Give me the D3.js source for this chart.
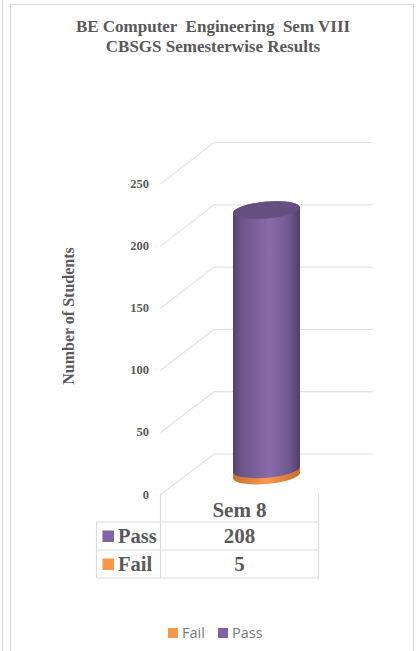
<!DOCTYPE html>
<html>
<head>
<meta charset="utf-8">
<script src="https://cdn.jsdelivr.net/npm/d3@7"></script>
<style>
html, body { margin: 0; padding: 0; background: #fff; overflow: hidden; }
text { font-family: "Liberation Serif", serif; font-weight: bold; fill: #595959; white-space: pre; }
</style>
</head>
<body>
<svg id="chart" width="416" height="651"></svg>
<script>
// chart values
const titleLines = ['BE Computer  Engineering  Sem VIII', 'CBSGS Semesterwise Results'];
const yTicks = [0, 50, 100, 150, 200, 250];
const categories = ['Sem 8'];
const seriesNames = ['Pass', 'Fail'];
const passValues = [208];
const failValues = [5];
const legendNames = ['Fail', 'Pass'];

const PASS = '#8064a2', FAIL = '#f79646', GRID = '#e3e3e3';

const svg = d3.select('#chart');
const defs = svg.append('defs');

// shading across the cylinder
function cylinderGradient(id, stops) {
    const g = defs.append('linearGradient').attr('id', id)
        .attr('x1', 0).attr('x2', 1).attr('y1', 0).attr('y2', 0);
    stops.forEach(s => g.append('stop').attr('offset', s[0]).attr('stop-color', s[1]));
}
cylinderGradient('passSide', [[0, '#54426d'], [0.12, '#6c5489'], [0.55, '#8a6bac'], [0.85, '#6f568d'], [1, '#4f3e66']]);
cylinderGradient('failSide', [[0, '#c5722f'], [0.5, '#f9994e'], [1, '#c5722f']]);

// outer frames of the screenshot
svg.append('rect').attr('x', 10.5).attr('y', 4.5).attr('width', 403).attr('height', 660)
    .attr('fill', 'none').attr('stroke', '#d9d9d9');
svg.append('line').attr('x1', 2.5).attr('x2', 2.5).attr('y1', 0).attr('y2', 651)
    .attr('stroke', '#d9d9d9');

// title
svg.append('g').selectAll('text').data(titleLines).join('text')
    .attr('x', 213).attr('y', (d, i) => 32 + i * 19.5)
    .attr('text-anchor', 'middle').attr('font-size', 17)
    .text(d => d);

// front and back value scales of the 3D box
const yFront = d3.scaleLinear().domain([0, 250]).range([494.5, 184]);
const yBack = d3.scaleLinear().domain([0, 250]).range([454, 142.5]);
const xFront = 160.5, xBack = 214, xRight = 373;

const grid = svg.append('g').attr('fill', 'none').attr('stroke', GRID).attr('stroke-width', 1.2);
grid.selectAll('path').data(yTicks).join('path')
    .attr('d', d => `M${xFront},${yFront(d)}L${xBack},${yBack(d)}L${xRight},${yBack(d)}`);

// tick labels
svg.append('g').selectAll('text').data(yTicks).join('text')
    .attr('x', 149).attr('y', d => yFront(d) + 4)
    .attr('text-anchor', 'end').attr('font-size', 12.5)
    .text(d => d);

// axis title
svg.append('text')
    .attr('transform', 'translate(74,316) rotate(-90)')
    .attr('text-anchor', 'middle').attr('font-size', 16)
    .text('Number of Students');

// stacked cylinder, drawn on a scale running through its centre
const cx = 266.5, rx = 33.5, ry = 8.5, tilt = -5;
const yCyl = d3.scaleLinear().domain([0, 250]).range([475.5, 164]);

function segment(v0, v1, fill) {
    const y0 = yCyl(v0), y1 = yCyl(v1);
    const lift = rx * Math.sin(-tilt * Math.PI / 180);
    svg.append('path')
        .attr('d', `M${cx - rx},${y1 + lift}L${cx - rx},${y0 + lift}` +
            `A${rx},${ry} ${tilt} 0 0 ${cx + rx},${y0 - lift}L${cx + rx},${y1 - lift}` +
            `A${rx},${ry} ${tilt} 0 0 ${cx - rx},${y1 + lift}Z`)
        .attr('fill', fill);
}
const failTop = failValues[0];
const passTop = failTop + passValues[0];
segment(0, failTop, 'url(#failSide)');
segment(failTop, passTop, 'url(#passSide)');
svg.append('ellipse')
    .attr('cx', cx).attr('cy', yCyl(passTop)).attr('rx', rx).attr('ry', ry)
    .attr('transform', `rotate(${tilt} ${cx} ${yCyl(passTop)})`)
    .attr('fill', '#654f80');

// data table
const tableX = [96.5, 160.5, 318.5];
const tableY = d3.scalePoint().domain(['head', ...seriesNames, 'end']).range([494, 578]);
const tbl = svg.append('g').attr('stroke', '#dcdcdc').attr('stroke-width', 1.2);
seriesNames.concat('end').forEach(r => {
    tbl.append('line').attr('x1', tableX[0]).attr('x2', tableX[2])
        .attr('y1', tableY(r)).attr('y2', tableY(r));
});
tbl.append('line').attr('x1', tableX[0]).attr('x2', tableX[0])
    .attr('y1', tableY('Pass')).attr('y2', tableY('end'));
tbl.append('line').attr('x1', tableX[1]).attr('x2', tableX[1])
    .attr('y1', tableY('head')).attr('y2', tableY('end'));
tbl.append('line').attr('x1', tableX[2]).attr('x2', tableX[2])
    .attr('y1', tableY('head')).attr('y2', tableY('end'));

const midX = (tableX[1] + tableX[2]) / 2;
svg.append('text').attr('x', midX).attr('y', tableY('head') + 23)
    .attr('text-anchor', 'middle').attr('font-size', 21).text(categories[0]);

const rowValues = [passValues[0], failValues[0]];
seriesNames.forEach((name, i) => {
    const y = tableY(name) + 21;
    svg.append('rect').attr('x', 102.5).attr('y', tableY(name) + 8.5)
        .attr('width', 11.5).attr('height', 11.5)
        .attr('fill', name === 'Pass' ? PASS : FAIL);
    svg.append('text').attr('x', 118).attr('y', y)
        .attr('font-size', 20.5).text(name);
    svg.append('text').attr('x', midX).attr('y', y)
        .attr('text-anchor', 'middle').attr('font-size', 21).text(rowValues[i]);
});

// legend at the bottom
const legendX = d3.scaleOrdinal().domain(legendNames).range([168, 218]);
legendNames.forEach(name => {
    svg.append('rect').attr('x', legendX(name)).attr('y', 628)
        .attr('width', 10).attr('height', 10)
        .attr('fill', name === 'Pass' ? PASS : FAIL);
    svg.append('text').attr('x', legendX(name) + 14).attr('y', 638)
        .attr('font-size', 14.5)
        .style('font-family', '"Open Sans", sans-serif').style('font-weight', 400)
        .style('fill', '#7a7a7a')
        .text(name);
});
</script>
</body>
</html>
